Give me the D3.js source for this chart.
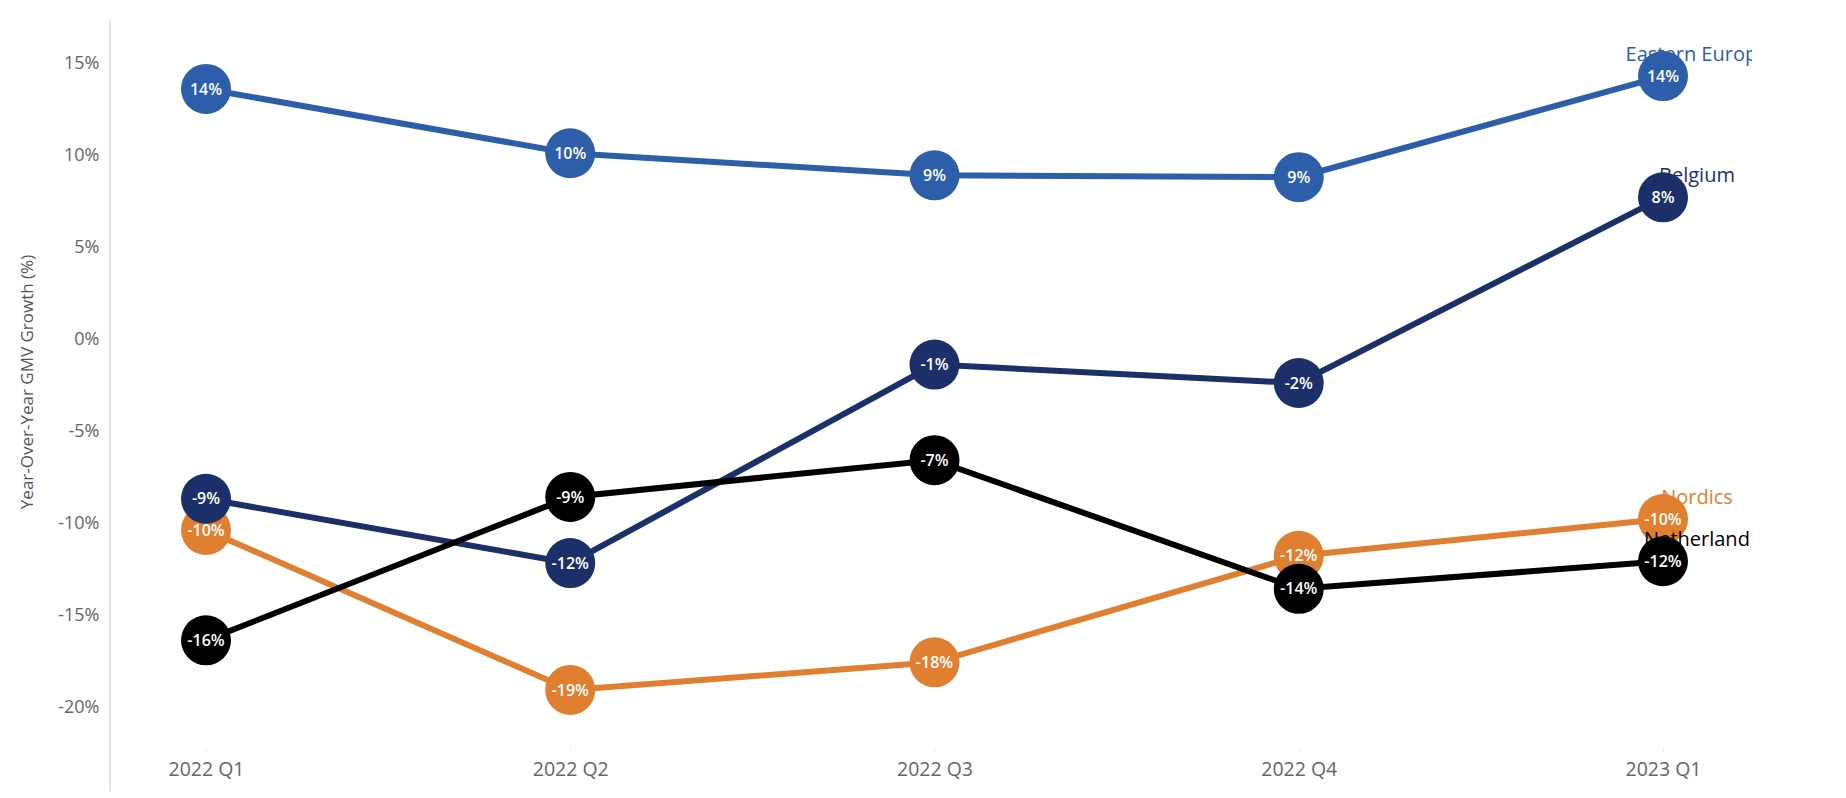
<!DOCTYPE html>
<html>
<head>
<meta charset="utf-8">
<script src="https://cdn.jsdelivr.net/npm/d3@7"></script>
<style>
  body { margin: 0; background: #fff; }
  text { font-family: "Open Sans", sans-serif; }
</style>
</head>
<body>
<div id="chart"></div>
<script>
// quarters on the x axis
var quarters = ["2022 Q1", "2022 Q2", "2022 Q3", "2022 Q4", "2023 Q1"];

// yoy gmv growth (%) per region
var nordics       = [-10.4, -19.1, -17.6, -11.8, -9.8];
var easternEurope = [13.6, 10.1, 8.9, 8.8, 14.3];
var belgium       = [-8.7, -12.2, -1.4, -2.4, 7.7];
var netherland    = [-16.4, -8.6, -6.6, -13.6, -12.1];

var seriesNames  = ["Nordics", "Eastern Europe", "Belgium", "Netherland"];
var seriesValues = [nordics, easternEurope, belgium, netherland];
var seriesColors = ["#e07f30", "#2c5ea9", "#1b3068", "#000000"];

var yTicks = [-20, -15, -10, -5, 0, 5, 10, 15];

var width = 1846, height = 798;

var svg = d3.select("#chart")
  .append("svg")
    .attr("width", width)
    .attr("height", height);

var x = d3.scalePoint()
  .domain(quarters)
  .range([206, 1663]);

var y = d3.scaleLinear()
  .domain([-24.6, 17.35])
  .range([791, 20]);

// y axis
var yAxis = svg.append("g")
  .attr("transform", "translate(109.5,0)")
  .call(d3.axisLeft(y).tickValues(yTicks).tickSize(0).tickPadding(10)
    .tickFormat(function(d) { return d + "%"; }));
yAxis.select(".domain").attr("stroke", "#cfcfcf").attr("stroke-width", 1.2);
yAxis.selectAll("text")
  .attr("fill", "#666")
  .style("font-size", "18px")
  .style("font-family", "Open Sans, sans-serif");

svg.append("text")
  .attr("transform", "translate(33,382) rotate(-90)")
  .attr("text-anchor", "middle")
  .attr("fill", "#555")
  .style("font-size", "17px")
  .text("Year-Over-Year GMV Growth (%)");

// x axis labels
var xAxis = svg.append("g")
  .attr("transform", "translate(0,748)")
  .call(d3.axisBottom(x).tickSize(4).tickPadding(10));
xAxis.select(".domain").remove();
xAxis.selectAll("line").attr("stroke", "#f0f0f0");
xAxis.selectAll("text")
  .attr("fill", "#666")
  .style("font-size", "19.5px")
  .style("font-family", "Open Sans, sans-serif");

svg.append("clipPath")
  .attr("id", "clip")
  .append("rect")
    .attr("x", 0).attr("y", 0)
    .attr("width", 1752).attr("height", height);

var line = d3.line()
  .x(function(d, i) { return x(quarters[i]); })
  .y(function(d) { return y(d); });

var groups = svg.selectAll(".series")
  .data(seriesValues)
  .enter().append("g")
    .attr("class", "series");

groups.append("path")
  .attr("fill", "none")
  .attr("stroke", function(d, i) { return seriesColors[i]; })
  .attr("stroke-width", 6)
  .attr("d", line);

groups.selectAll("circle")
  .data(function(d, i) { return d.map(function(v) { return {v: v, c: seriesColors[i]}; }); })
  .enter().append("circle")
    .attr("cx", function(d, i) { return x(quarters[i]); })
    .attr("cy", function(d) { return y(d.v); })
    .attr("r", 25)
    .attr("fill", function(d) { return d.c; });

// region labels at the end of each line
svg.append("g")
  .attr("clip-path", "url(#clip)")
  .selectAll("text")
  .data(seriesValues)
  .enter().append("text")
    .attr("x", x(quarters[quarters.length - 1]) + 34)
    .attr("y", function(d) { return y(d[d.length - 1]) - 15; })
    .attr("text-anchor", "middle")
    .attr("fill", function(d, i) { return seriesColors[i]; })
    .style("font-size", "20px")
    .text(function(d, i) { return seriesNames[i]; });

// value labels inside circles
groups.selectAll(".val")
  .data(function(d) { return d; })
  .enter().append("text")
    .attr("class", "val")
    .attr("x", function(d, i) { return x(quarters[i]); })
    .attr("y", function(d) { return y(d); })
    .attr("dy", "0.35em")
    .attr("text-anchor", "middle")
    .attr("fill", "#fff")
    .style("font-size", "16px")
    .style("font-weight", 600)
    .text(function(d) { return Math.round(d) + "%"; });
</script>
</body>
</html>
